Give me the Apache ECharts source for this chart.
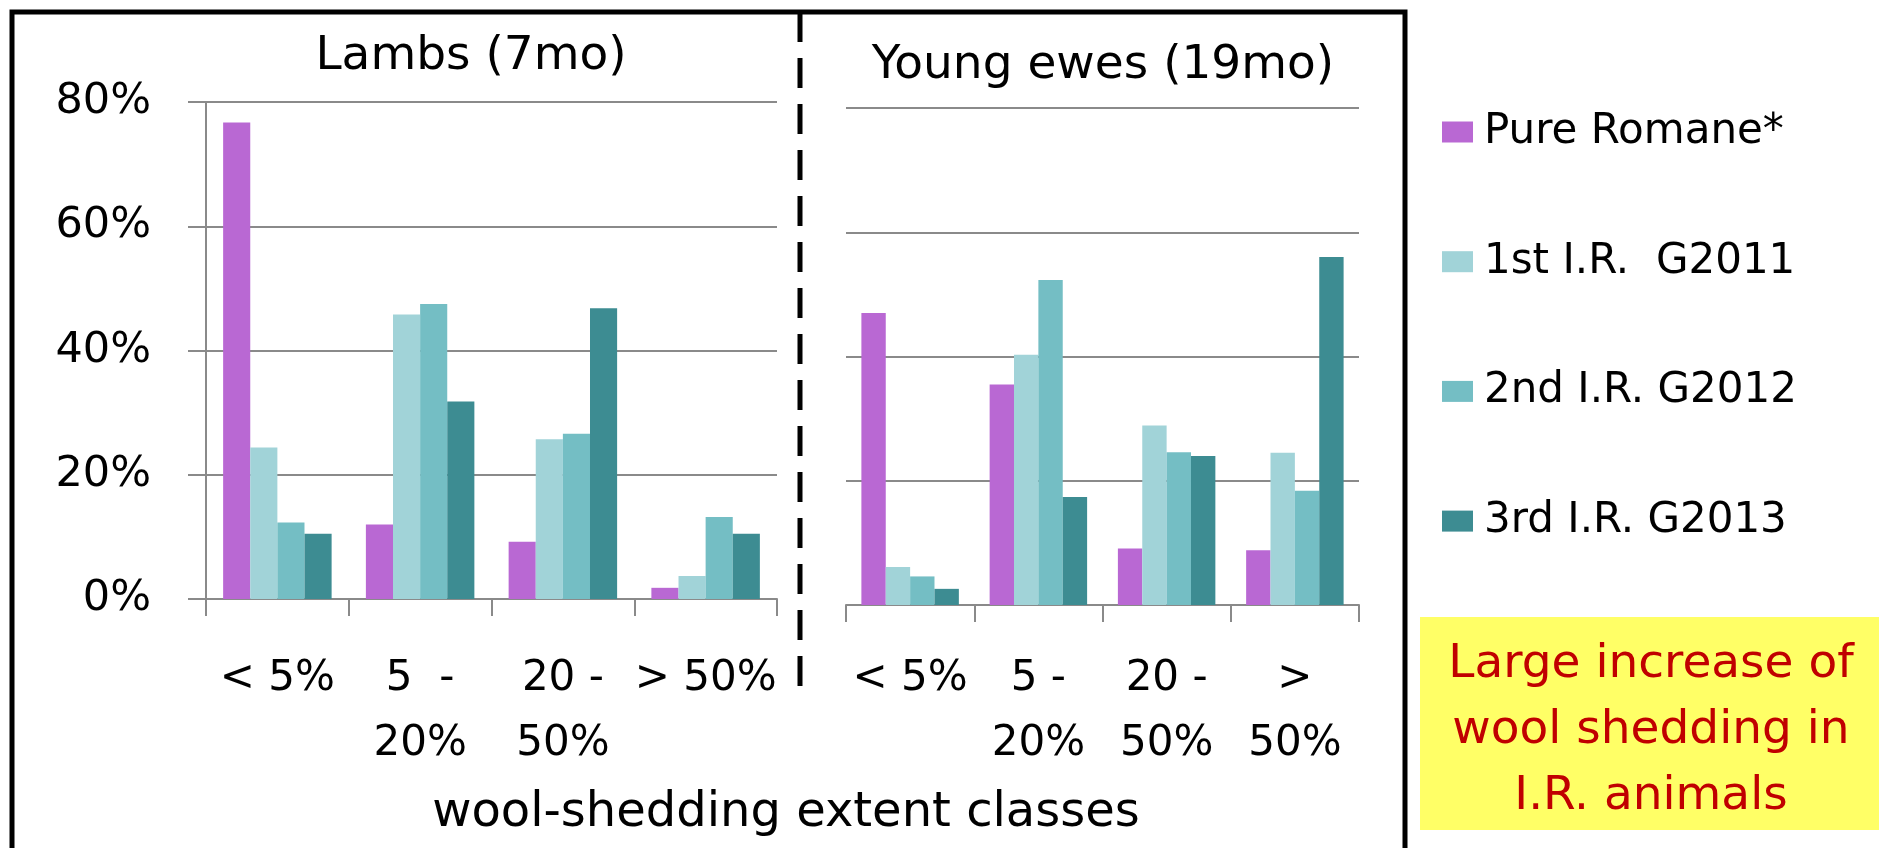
<!DOCTYPE html>
<html>
<head>
<meta charset="utf-8">
<script src="https://cdn.jsdelivr.net/npm/echarts@6/dist/echarts.min.js"></script>
<style>
html,body{margin:0;padding:0;background:#fff;}
#chart{width:1879px;height:848px;}
</style>
</head>
<body>
<div id="chart"></div>
<script>
// ---- data ----
const seriesNames = ['Pure Romane*', '1st I.R.  G2011', '2nd I.R. G2012', '3rd I.R. G2013'];
const lambLabels = ['< 5%', '5  -\n20%', '20 -\n50%', '> 50%'];
const eweLabels = ['< 5%', '5 -\n20%', '20 -\n50%', '>\n50%'];
const yTicks = [0, 20, 40, 60, 80];

const lambsPure = [76.7, 12.0, 9.2, 1.8];
const lambs1st  = [24.4, 45.8, 25.7, 3.7];
const lambs2nd  = [12.3, 47.5, 26.6, 13.2];
const lambs3rd  = [10.5, 31.8, 46.8, 10.5];

const ewesPure = [47.0, 35.5, 9.1, 8.8];
const ewes1st  = [6.1, 40.3, 28.9, 24.5];
const ewes2nd  = [4.6, 52.3, 24.6, 18.4];
const ewes3rd  = [2.6, 17.4, 24.0, 56.0];

const titleLambs = 'Lambs (7mo)';
const titleEwes = 'Young ewes (19mo)';
const xAxisTitle = 'wool-shedding extent classes';
const noteText = 'Large increase of\nwool shedding in\nI.R. animals';

const colors = ['#B968D3', '#A1D3D8', '#74BEC4', '#3D8C92'];
const FONT = '"DejaVu Sans", sans-serif';
const gridGray = '#8a8a8a';

const chart = echarts.init(document.getElementById('chart'), null, {renderer: 'canvas'});

function makeX(idx, labels, margin) {
  return {
    type: 'category', gridIndex: idx, data: labels,
    axisLine: {show: true, lineStyle: {color: gridGray, width: 2}},
    axisTick: {show: true, length: 17, lineStyle: {color: gridGray, width: 2}},
    axisLabel: {color: '#000', fontSize: 42, fontFamily: FONT, lineHeight: 65, margin: margin, interval: 0}
  };
}
function makeY(idx, showLabels) {
  return {
    type: 'value', gridIndex: idx, min: yTicks[0], max: yTicks[yTicks.length - 1], interval: 20,
    axisLine: {show: showLabels, lineStyle: {color: gridGray, width: 2}},
    axisTick: {show: showLabels, length: 18, lineStyle: {color: gridGray, width: 2}},
    axisLabel: {show: showLabels, color: '#000', fontSize: 43, fontFamily: FONT, margin: 55,
      formatter: v => v + '%'},
    splitLine: {show: true, lineStyle: {color: gridGray, width: 2}}
  };
}
function makeSeries(name, data, i, gi) {
  return {
    name: name, type: 'bar', xAxisIndex: gi, yAxisIndex: gi, data: data,
    barGap: '0%', barCategoryGap: '24%',
    itemStyle: {color: colors[i]}
  };
}

const lambSets = [lambsPure, lambs1st, lambs2nd, lambs3rd];
const eweSets = [ewesPure, ewes1st, ewes2nd, ewes3rd];
const series = [];
lambSets.forEach((d, i) => series.push(makeSeries(seriesNames[i], d, i, 0)));
eweSets.forEach((d, i) => series.push(makeSeries(seriesNames[i], d, i, 1)));

const option = {
  backgroundColor: '#fff',
  animation: false,
  grid: [
    {left: 206, top: 102, width: 571, height: 497, containLabel: false, outerBoundsMode: 'none'},
    {left: 846, top: 108, width: 513, height: 497, containLabel: false, outerBoundsMode: 'none'}
  ],
  xAxis: [makeX(0, lambLabels, 48), makeX(1, eweLabels, 42)],
  yAxis: [makeY(0, true), makeY(1, false)],
  legend: {
    data: seriesNames, orient: 'vertical', left: 1437, top: 106,
    itemWidth: 31, itemHeight: 21, itemGap: 87.7, icon: 'rect',
    textStyle: {color: '#000', fontSize: 42, fontFamily: FONT, lineHeight: 40, padding: [0, 0, 0, 6]}
  },
  series: series,
  graphic: [
    {type: 'rect', z: 1, shape: {x: 12, y: 12, width: 1393, height: 900},
      style: {fill: 'none', stroke: '#000', lineWidth: 5}},
    {type: 'line', z: 1, shape: {x1: 800, y1: 12, x2: 800, y2: 692},
      style: {stroke: '#000', lineWidth: 5, lineDash: [30, 16]}},
    {type: 'text', z: 5, x: 471, y: 57,
      style: {text: titleLambs, fontSize: 47, fontFamily: FONT, fill: '#000', textAlign: 'center', textVerticalAlign: 'middle'}},
    {type: 'text', z: 5, x: 1103, y: 66,
      style: {text: titleEwes, fontSize: 47, fontFamily: FONT, fill: '#000', textAlign: 'center', textVerticalAlign: 'middle'}},
    {type: 'text', z: 5, x: 786, y: 814,
      style: {text: xAxisTitle, fontSize: 48, fontFamily: FONT, fill: '#000', textAlign: 'center', textVerticalAlign: 'middle'}},
    {type: 'rect', z: 2, shape: {x: 1420, y: 617, width: 459, height: 213},
      style: {fill: '#FFFF66'}},
    {type: 'text', z: 6, x: 1651, y: 731,
      style: {text: noteText, fontSize: 47, fontFamily: FONT, fill: '#C00000', lineHeight: 66,
        textAlign: 'center', textVerticalAlign: 'middle'}}
  ]
};
chart.setOption(option);
</script>
</body>
</html>
